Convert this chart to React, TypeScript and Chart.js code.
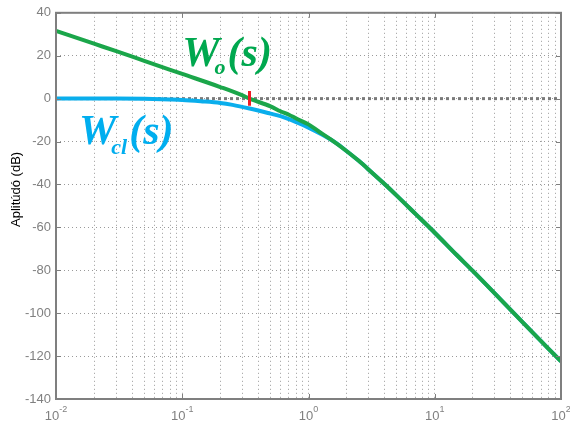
import React, { useEffect, useRef } from "react";
import { Chart, registerables } from "chart.js";

Chart.register(...registerables);

// Open-loop Wo(s) magnitude (dB)
const freqWo = [0.01, 0.02, 0.03, 0.05, 0.1, 0.2, 0.3, 0.341, 0.5, 0.6, 0.7, 0.8, 1, 1.2, 1.5, 2, 2.5, 3, 4, 5, 7, 10, 15, 20, 50, 100];
const magWo = [31.6, 25.6, 22.1, 17.6, 11.5, 5.4, 1.5, 0, -3.6, -5.9, -7.5, -9.3, -12, -15.2, -19, -24.4, -29, -33.1, -39.8, -45.2, -53.6, -62.5, -73, -80.3, -104.4, -122.5];

// Closed-loop Wcl(s) magnitude (dB)
const freqWcl = [0.01, 0.03, 0.05, 0.08, 0.1, 0.14, 0.2, 0.25, 0.341, 0.5, 0.6, 0.8, 1, 1.3, 1.68, 2, 2.5, 3, 4, 5, 7, 10, 15, 20, 50, 100];
const magWcl = [0, 0, -0.1, -0.4, -0.6, -1.2, -2.0, -2.9, -4.6, -7.0, -8.2, -11, -13.5, -17, -21.0, -24.4, -29, -33.1, -39.8, -45.2, -53.6, -62.5, -73, -80.3, -104.4, -122.5];

// 0 dB reference line and crossover marker
const zeroFreq = [0.01, 100];
const zeroMag = [0, 0];
const crossFreq = [0.341, 0.341];
const crossMag = [3.6, -3.3];

// Axis ticks
const xMajor = [0.01, 0.1, 1, 10, 100];
const xMajorExp = ["-2", "-1", "0", "1", "2"];
const xGridValues = [
  0.01, 0.02, 0.03, 0.04, 0.05, 0.06, 0.07, 0.08, 0.09,
  0.1, 0.2, 0.3, 0.4, 0.5, 0.6, 0.7, 0.8, 0.9,
  1, 2, 3, 4, 5, 6, 7, 8, 9,
  10, 20, 30, 40, 50, 60, 70, 80, 90, 100,
];
const yMin = -140;
const yMax = 40;
const yStep = 20;

const yTitle = "Aplitúdó (dB)";

const SANS = "'Liberation Sans', Arial, sans-serif";
const SERIF = "'Liberation Serif', 'Times New Roman', serif";

const toPts = (xs: number[], ys: number[]) => xs.map((x, i) => ({ x, y: ys[i] }));

const decorPlugin = {
  id: "decor",
  afterDraw(chart: any) {
    const { ctx, chartArea, scales } = chart;
    const xs = scales.x;
    const ys = scales.y;
    ctx.save();
    // box
    ctx.strokeStyle = "#7f7f7f";
    ctx.lineWidth = 2;
    ctx.strokeRect(chartArea.left, chartArea.top, chartArea.right - chartArea.left, chartArea.bottom - chartArea.top);
    // inward ticks
    ctx.lineWidth = 1;
    ctx.beginPath();
    for (let v = yMin; v <= yMax; v += yStep) {
      const py = Math.round(ys.getPixelForValue(v)) + 0.5;
      ctx.moveTo(chartArea.left, py);
      ctx.lineTo(chartArea.left + 5, py);
      ctx.moveTo(chartArea.right, py);
      ctx.lineTo(chartArea.right - 5, py);
    }
    xMajor.forEach((v) => {
      const px = Math.round(xs.getPixelForValue(v)) + 0.5;
      ctx.moveTo(px, chartArea.bottom);
      ctx.lineTo(px, chartArea.bottom - 5);
      ctx.moveTo(px, chartArea.top);
      ctx.lineTo(px, chartArea.top + 5);
    });
    ctx.stroke();

    // x tick labels 10^n
    ctx.fillStyle = "#808080";
    ctx.textBaseline = "alphabetic";
    ctx.textAlign = "left";
    xMajor.forEach((v, i) => {
      const px = xs.getPixelForValue(v);
      ctx.font = `13px ${SANS}`;
      const w1 = ctx.measureText("10").width;
      ctx.font = `9px ${SANS}`;
      const w2 = ctx.measureText(xMajorExp[i]).width;
      const start = px - (w1 + w2) / 2;
      ctx.font = `13px ${SANS}`;
      ctx.fillText("10", start, 420);
      ctx.font = `9px ${SANS}`;
      ctx.fillText(xMajorExp[i], start + w1, 412);
    });

    // y title
    ctx.fillStyle = "#000000";
    ctx.font = `13px ${SANS}`;
    ctx.translate(20, 227);
    ctx.rotate(-Math.PI / 2);
    ctx.textAlign = "left";
    ctx.fillText(yTitle, 0, 0);
    ctx.setTransform(1, 0, 0, 1, 0, 0);

    // curve labels
    const drawLabel = (x: number, y: number, sub: string, color: string, subDy: number) => {
      const px = xs.getPixelForValue(x);
      const py = ys.getPixelForValue(y);
      ctx.fillStyle = color;
      ctx.textAlign = "left";
      ctx.font = `bold italic 42px ${SERIF}`;
      ctx.fillText("W", px, py);
      const wW = ctx.measureText("W").width;
      ctx.font = `bold italic 22px ${SERIF}`;
      const sx = px + wW - 5;
      ctx.fillText(sub, sx, py + subDy);
      const wSub = ctx.measureText(sub).width;
      ctx.font = `bold italic 42px ${SERIF}`;
      ctx.fillText("(s)", sx + wSub + 2, py);
    };
    drawLabel(0.1, 15, "o", "#00A84F", 8);
    drawLabel(0.0152, -21, "cl", "#00AEEF", 10);
    ctx.restore();
  },
};

export default function App() {
  const ref = useRef<HTMLCanvasElement | null>(null);
  useEffect(() => {
    if (!ref.current) return;
    const gridCommon = { color: "#9a9a9a", lineWidth: 1, drawTicks: false };
    const chart = new Chart(ref.current, {
      type: "line",
      data: {
        datasets: [
          {
            data: toPts(zeroFreq, zeroMag),
            borderColor: "#7a7a7a",
            borderWidth: 3,
            borderDash: [3, 3],
            pointRadius: 0,
            order: 4,
          },
          {
            data: toPts(freqWcl, magWcl),
            borderColor: "#0AAEEC",
            borderWidth: 4,
            pointRadius: 0,
            cubicInterpolationMode: "monotone",
            order: 3,
          },
          {
            data: toPts(freqWo, magWo),
            borderColor: "#1BA64A",
            borderWidth: 4,
            pointRadius: 0,
            cubicInterpolationMode: "monotone",
            order: 2,
          },
          {
            data: toPts(crossFreq, crossMag),
            borderColor: "#EE1C25",
            borderWidth: 3,
            pointRadius: 0,
            order: 1,
          },
        ] as any,
      },
      options: {
        animation: false,
        responsive: false,
        events: [],
        plugins: { legend: { display: false }, tooltip: { enabled: false } },
        layout: { padding: { top: 12, right: 9, left: 0, bottom: 0 } },
        scales: {
          x: {
            type: "logarithmic",
            min: 0.01,
            max: 100,
            afterBuildTicks: (s: any) => {
              s.ticks = xGridValues.map((v) => ({ value: v }));
            },
            ticks: { display: false },
            grid: gridCommon,
            border: { display: false, dash: [1, 3] },
            afterFit: (s: any) => {
              s.height = 23;
            },
          },
          y: {
            type: "linear",
            min: yMin,
            max: yMax,
            ticks: {
              stepSize: yStep,
              color: "#808080",
              font: { size: 13, family: SANS },
              padding: 5,
            },
            grid: gridCommon,
            border: { display: false, dash: [1, 3] },
            afterFit: (s: any) => {
              s.width = 56;
            },
          },
        },
      } as any,
      plugins: [decorPlugin],
    });
    return () => chart.destroy();
  }, []);
  return (
    <div style={{ position: "fixed", left: 0, top: 0, width: 570, height: 422, background: "#fff" }}>
      <canvas ref={ref} width={570} height={422} />
    </div>
  );
}
